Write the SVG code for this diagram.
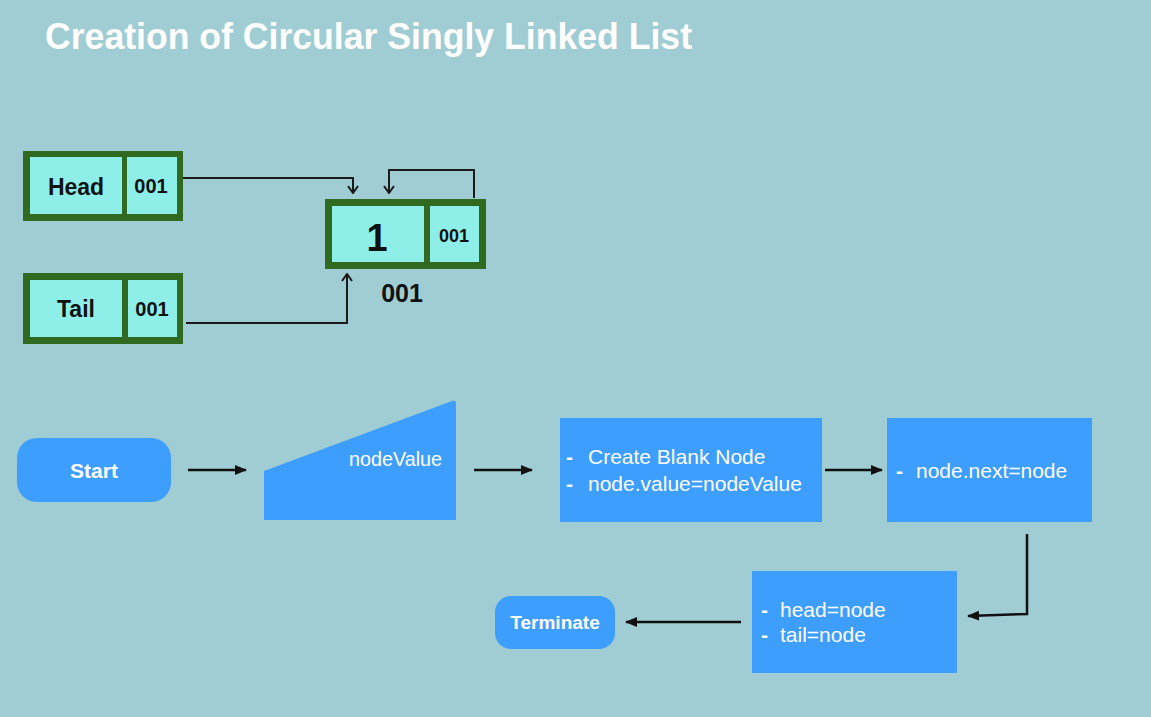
<svg xmlns="http://www.w3.org/2000/svg" width="1151" height="717" viewBox="0 0 1151 717">
<defs>
<style>
.frame{fill:#2f6a20}
.cell{fill:#8eefe9}
.lbl{font-family:"Liberation Sans",Arial,sans-serif;font-weight:bold;fill:#111;text-anchor:middle}
.blue{fill:#3d9efd}
.wt{font-family:"Liberation Sans",Arial,sans-serif;fill:#fff;font-size:21px}
.dash{font-family:"Liberation Sans",Arial,sans-serif;fill:#fff;font-size:21px;font-weight:bold}
.wtb{font-family:"Liberation Sans",Arial,sans-serif;fill:#fff;font-weight:bold;text-anchor:middle}
.ln{fill:none;stroke:#1a1a1a;stroke-width:2}
.fl{fill:none;stroke:#111;stroke-width:2.5}
</style>
<marker id="ah" markerUnits="userSpaceOnUse" markerWidth="12" markerHeight="12" viewBox="0 0 12 12" refX="11" refY="6" orient="auto">
<path d="M0,1 L12,6 L0,11 Z" fill="#111"/>
</marker>
<marker id="av" markerUnits="userSpaceOnUse" markerWidth="12" markerHeight="12" viewBox="0 0 12 12" refX="11" refY="6" orient="auto">
<path d="M4,1 L11,6 L4,11" fill="none" stroke="#1a1a1a" stroke-width="2"/>
</marker>
</defs>
<rect width="1151" height="717" fill="#9fcdd3"/>
<text x="45" y="49" font-family="'Liberation Sans',Arial,sans-serif" font-weight="bold" font-size="36" fill="#fff" textLength="647" lengthAdjust="spacingAndGlyphs">Creation of Circular Singly Linked List</text>

<g id="head">
<rect class="frame" x="23" y="151" width="160" height="70"/>
<rect class="cell" x="30" y="157" width="92" height="57"/>
<rect class="cell" x="127" y="157" width="50" height="57"/>
<text class="lbl" x="76" y="195" font-size="23">Head</text>
<text class="lbl" x="151" y="193" font-size="20">001</text>
</g>
<g id="tail">
<rect class="frame" x="23" y="273" width="160" height="71"/>
<rect class="cell" x="30" y="280" width="92" height="57"/>
<rect class="cell" x="128" y="280" width="49" height="57"/>
<text class="lbl" x="76" y="317" font-size="23">Tail</text>
<text class="lbl" x="152" y="316" font-size="20">001</text>
</g>
<g id="node1">
<rect class="frame" x="325" y="199" width="161" height="70"/>
<rect class="cell" x="332" y="206" width="92" height="56"/>
<rect class="cell" x="430" y="206" width="49" height="56"/>
<text class="lbl" x="377" y="251" font-size="38">1</text>
<text class="lbl" x="454" y="242" font-size="18">001</text>
<text class="lbl" x="402" y="302" font-size="25">001</text>
</g>

<g id="start">
<rect class="blue" x="17" y="438" width="154" height="64" rx="20"/>
<text class="wtb" x="94" y="478" font-size="21">Start</text>
</g>
<g id="input">
<path class="blue" d="M264,471 L452,401 Q456,399.5 456,404 L456,520 L264,520 Z"/>
<text class="wt" x="349" y="466" textLength="93" lengthAdjust="spacingAndGlyphs">nodeValue</text>
</g>
<g id="create">
<rect class="blue" x="560" y="418" width="262" height="104"/>
<text class="dash" x="566" y="464">-</text>
<text class="wt" x="588" y="464">Create Blank Node</text>
<text class="dash" x="566" y="491">-</text>
<text class="wt" x="588" y="491">node.value=nodeValue</text>
</g>
<g id="next">
<rect class="blue" x="887" y="418" width="205" height="104"/>
<text class="dash" x="896" y="478">-</text>
<text class="wt" x="916" y="478">node.next=node</text>
</g>
<g id="assign">
<rect class="blue" x="752" y="571" width="205" height="102"/>
<text class="dash" x="761" y="617">-</text>
<text class="wt" x="780" y="617">head=node</text>
<text class="dash" x="761" y="642">-</text>
<text class="wt" x="780" y="642">tail=node</text>
</g>
<g id="terminate">
<rect class="blue" x="495" y="596" width="120" height="53" rx="16"/>
<text class="wtb" x="555" y="629" font-size="19">Terminate</text>
</g>

<g id="connectors">
<polyline class="ln" points="183,178 353,178 353,193" marker-end="url(#av)"/>
<polyline class="ln" points="474,198 474,170 389,170 389,193" marker-end="url(#av)"/>
<polyline class="ln" points="186,323 347,323 347,274" marker-end="url(#av)"/>
<line class="fl" x1="188" y1="470" x2="246" y2="470" marker-end="url(#ah)"/>
<line class="fl" x1="474" y1="470" x2="532" y2="470" marker-end="url(#ah)"/>
<line class="fl" x1="825" y1="470" x2="882" y2="470" marker-end="url(#ah)"/>
<polyline class="fl" points="1027,534 1027,614 968,616" marker-end="url(#ah)"/>
<line class="fl" x1="741" y1="622" x2="626" y2="622" marker-end="url(#ah)"/>
</g>
</svg>
